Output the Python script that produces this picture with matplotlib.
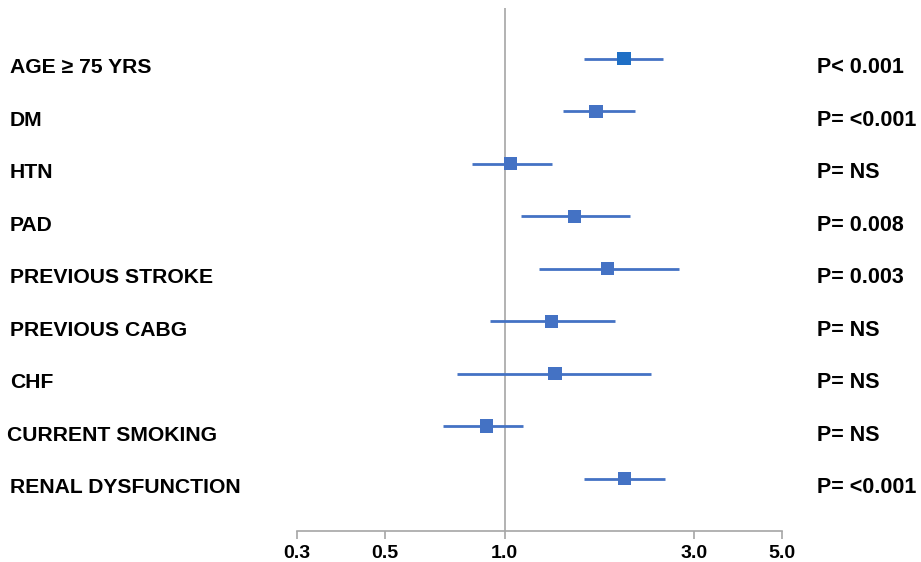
import matplotlib.pyplot as plt
import matplotlib.ticker as plticker
from matplotlib.transforms import blended_transform_factory, ScaledTranslation

# forest plot data (odds ratios with 95% CI)
factors = ['AGE \u2265 75 YRS', 'DM', 'HTN', 'PAD', 'PREVIOUS STROKE',
           'PREVIOUS CABG', 'CHF', 'CURRENT SMOKING', 'RENAL DYSFUNCTION']
odds = [2.00, 1.70, 1.035, 1.50, 1.82, 1.31, 1.34, 0.90, 2.01]
ci_low = [1.59, 1.40, 0.83, 1.10, 1.22, 0.92, 0.76, 0.70, 1.59]
ci_high = [2.51, 2.13, 1.32, 2.07, 2.75, 1.90, 2.34, 1.11, 2.54]
pvals = ['P< 0.001', 'P= <0.001', 'P= NS', 'P= 0.008', 'P= 0.003',
         'P= NS', 'P= NS', 'P= NS', 'P= <0.001']
xticks = [0.3, 0.5, 1.0, 3.0, 5.0]

plt.rcParams['font.family'] = ['Liberation Sans', 'DejaVu Sans']

blue = '#4472C4'
grey = '#A6A6A6'

fig = plt.figure(figsize=(9.21, 5.62), dpi=100)
ax = fig.add_axes([297/921, 31/562, 485/921, 523/562])

ypos = list(range(len(factors)))
xerr = [[o - l for o, l in zip(odds, ci_low)], [h - o for o, h in zip(odds, ci_high)]]
ax.errorbar(odds, ypos, xerr=xerr, fmt='none', ecolor=blue, elinewidth=2.0,
            capsize=0, zorder=3)
mcols = [blue] * len(factors)
mcols[0] = '#1F6FC5'
ax.scatter(odds, ypos, marker='s', s=90, c=mcols, zorder=4, linewidths=0)

ax.axvline(1.0, color=grey, lw=1.2, zorder=1)

ax.set_xscale('log')
ax.set_xlim(0.3, 5.0)
ax.set_ylim(9.0, -0.97)
ax.xaxis.set_major_locator(plticker.FixedLocator(xticks))
ax.xaxis.set_minor_locator(plticker.NullLocator())
ax.set_xticklabels([f'{t:.1f}' for t in xticks], fontsize=14, fontweight='bold')
ax.tick_params(axis='x', length=6, width=1.2, color=grey, pad=4)
ax.set_yticks([])
for s in ['top', 'left', 'right']:
    ax.spines[s].set_visible(False)
ax.spines['bottom'].set_color(grey)
ax.spines['bottom'].set_linewidth(1.2)

# row labels sit a little below the markers, as in the original
trans = blended_transform_factory(fig.transFigure, ax.transData)
trans = trans + ScaledTranslation(0, -14.5/100, fig.dpi_scale_trans)
for i, (lab, p) in enumerate(zip(factors, pvals)):
    xl = 7/921 if lab == 'CURRENT SMOKING' else 10/921
    ax.text(xl, i, lab, transform=trans, ha='left', va='baseline',
            fontsize=15.2, fontweight='bold', clip_on=False)
    ax.text(817/921, i, p, transform=trans, ha='left', va='baseline',
            fontsize=15.5, fontweight='bold', clip_on=False)

plt.savefig('out.png', dpi=100)
plt.close()
